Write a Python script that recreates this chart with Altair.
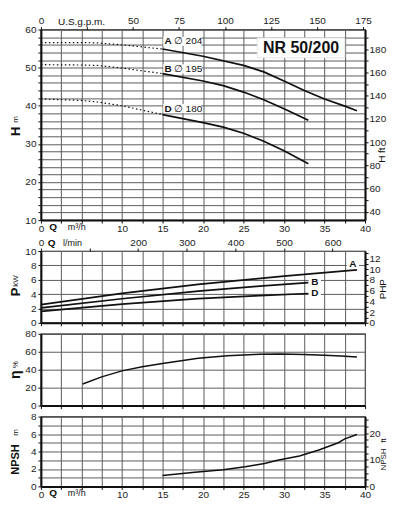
import altair as alt
import pandas as pd

# ---------------- values ----------------
# Q-H curves (Q in m3/h, H in m); dotted part = low-flow range
h_dot_q = [0, 5, 7, 10, 15]
hA_dot = [56.6, 56.6, 56.5, 56.0, 54.9]
hB_dot = [50.8, 50.7, 50.6, 49.9, 48.45]
hD_dot = [41.8, 41.4, 41.0, 40.0, 37.7]

hA_q = [15, 20, 25, 27.5, 30, 32.5, 35, 37.5, 39]
hA_h = [54.9, 53.0, 50.6, 48.9, 46.5, 44.0, 41.8, 39.9, 38.7]
hBD_q = [15, 20, 22.5, 25, 27.5, 30, 33]
hB_h = [48.45, 46.5, 45.3, 43.6, 41.6, 39.25, 36.2]
hD_h = [37.7, 35.6, 34.4, 32.8, 30.7, 28.2, 24.8]

impellers = ["A", "B", "D"]
diameters = ["∅ 204", "∅ 195", "∅ 180"]
imp_label_h = [56.9, 49.7, 39.25]
imp_label_q = 15.7
model_name = "NR 50/200"
model_label_q = 32.1
model_label_h = 55.2

# power (kW)
pA_q = [0, 10, 19.4, 30, 39]
pA = [2.54, 4.1, 5.35, 6.5, 7.37]
pBD_q = [0, 10, 19.4, 27, 33]
pB = [2.07, 3.35, 4.41, 5.1, 5.59]
pD = [1.6, 2.6, 3.38, 3.8, 4.08]
p_label_q = [38.5, 33.8, 33.8]
p_label_p = [8.2, 5.73, 4.18]

# efficiency (%)
eff_q = [5.15, 7.5, 10, 12.5, 15, 19.4, 23, 27, 29.5, 32.4, 35, 37, 39]
eff = [24, 32, 38.7, 43.3, 46.8, 52.7, 55.5, 57.1, 57.4, 57, 56.2, 55.3, 54.1]

# NPSH (m)
npsh_q = [15, 19, 22.5, 25.2, 27.6, 29.2, 31.9, 34.3, 36.7, 37.5, 39]
npsh = [1.24, 1.61, 1.92, 2.25, 2.63, 3.0, 3.49, 4.17, 5.0, 5.45, 5.94]

# axis values
q_ticks = [i * 2.5 for i in range(17)]
gpm_ticks = [0, 25, 50, 75, 100, 125, 150, 175]
lmin_ticks = [0, 100, 200, 300, 400, 500, 600]
h_ticks = list(range(10, 61, 2))
hft_ticks = list(range(40, 191, 10))
p_ticks = [0, 2, 4, 6, 8, 10]
hp_ticks = list(range(0, 14))
eff_ticks = [0, 20, 40, 60, 80]
npsh_ticks = list(range(0, 9))
nft_ticks = [i * 2.5 for i in range(11)]

M3H_GPM = 4.4029
M3H_LMIN = 16.6667
M_FT = 3.2808
KW_HP = 1.341

# ---------------- styling ----------------
INK = "#111111"
GRID = "#5c5c5c"
FONT = "Liberation Sans"
W = 325
HH, HPW, HE, HN = 191, 72, 72, 70
Q_DOM = [0, 40]


def sc(dom):
    return alt.Scale(domain=dom, nice=False, zero=False)


def bottom_axis(labels):
    return alt.Axis(orient="bottom", values=q_ticks, grid=True, gridColor=GRID, gridWidth=1,
                    gridOpacity=1, domain=True, domainColor=INK, domainWidth=2, ticks=True,
                    tickSize=3, tickColor=INK, labels=labels,
                    labelExpr="(datum.value % 5 == 0 && datum.value != 5) ? datum.label : ''",
                    labelPadding=0, labelOverlap=False, labelFlush=False)


def left_axis(values, lstep):
    return alt.Axis(orient="left", values=values, grid=True, gridColor=GRID, gridWidth=1,
                    gridOpacity=1, domain=True, domainColor=INK, domainWidth=2, ticks=True,
                    tickSize=3, tickColor=INK, labels=True,
                    labelExpr=f"datum.value % {lstep} == 0 ? datum.label : ''",
                    labelPadding=2, labelOverlap=False, labelFlush=False)


class Panel:
    """Holds the shared, explicit axes of one panel so every layer uses the same ones."""

    def __init__(self, dom, yvals, lstep, xlabels):
        self.dom = dom
        self.xax = bottom_axis(xlabels)
        self.yax = left_axis(yvals, lstep)

    def x(self, field):
        return alt.X(f"{field}:Q", scale=sc(Q_DOM), axis=self.xax, title=None)

    def y(self, field):
        return alt.Y(f"{field}:Q", scale=sc(self.dom), axis=self.yax, title=None)

    def frame(self):
        df = pd.DataFrame({"q": Q_DOM, "v": self.dom})
        return alt.Chart(df).mark_point(opacity=0, size=1).encode(x=self.x("q"), y=self.y("v"))

    def curves(self, df, width=1.7, dash=None):
        kw = dict(color=INK, strokeWidth=width)
        if dash:
            kw["strokeDash"] = dash
        return alt.Chart(df).mark_line(**kw).encode(
            x=self.x("q"), y=self.y("v"), detail="s:N", order="q:Q")

    def boxes(self, df, **kw):
        return alt.Chart(df).mark_rect(color="white", **kw).encode(
            x=self.x("q0"), x2="q1:Q", y=self.y("v0"), y2="v1:Q")

    def labels(self, df, xfield, text, size=10, weight="normal", align="center"):
        return alt.Chart(df).mark_text(fontSize=size, fontWeight=weight, align=align,
                                       font=FONT, color=INK).encode(
            x=self.x(xfield), y=self.y("v"), text=f"{text}:N")


def ptext(txt, x, y, size, weight="normal", angle=270, align="center", font=FONT):
    return alt.Chart(pd.DataFrame({"t": [txt]})).mark_text(
        fontSize=size, fontWeight=weight, angle=angle, align=align, baseline="middle",
        font=font, color=INK).encode(x=alt.value(x), y=alt.value(y), text="t:N")


def top_axis(field, dom, values, expr):
    return alt.Chart(pd.DataFrame({field: dom})).mark_point(opacity=0, size=1).encode(
        x=alt.X(f"{field}:Q", scale=sc(dom), title=None,
                axis=alt.Axis(orient="top", values=values, labelExpr=expr, grid=False,
                              domain=False, tickSize=3, tickColor=INK, labelPadding=1,
                              labelOverlap=False, labelFlush=False)))


def right_axis(field, dom, values, expr):
    return alt.Chart(pd.DataFrame({field: dom})).mark_point(opacity=0, size=1).encode(
        y=alt.Y(f"{field}:Q", scale=sc(dom), title=None,
                axis=alt.Axis(orient="right", values=values, labelExpr=expr, grid=False,
                              domain=True, domainColor=INK, domainWidth=2, tickSize=3,
                              tickColor=INK, labelPadding=1, labelOverlap=False,
                              labelFlush=False)))


# ---------------- H panel ----------------
hp = Panel([10, 60], h_ticks, 10, True)
dot_df = pd.DataFrame({
    "q": h_dot_q * 3,
    "v": hA_dot + hB_dot + hD_dot,
    "s": ["A"] * 5 + ["B"] * 5 + ["D"] * 5,
})
h_df = pd.DataFrame({
    "q": hA_q + hBD_q + hBD_q,
    "v": hA_h + hB_h + hD_h,
    "s": ["A"] * len(hA_q) + ["B"] * len(hBD_q) + ["D"] * len(hBD_q),
})
imp_df = pd.DataFrame({
    "q": [imp_label_q] * 3, "q0": [imp_label_q - 0.6] * 3, "q1": [imp_label_q + 4.1] * 3,
    "qd": [imp_label_q + 0.7] * 3,
    "v": imp_label_h, "v0": [h - 1.2 for h in imp_label_h], "v1": [h + 1.2 for h in imp_label_h],
    "t": impellers, "d": diameters,
})
model_df = pd.DataFrame({
    "q": [model_label_q], "q0": [model_label_q - 5.4], "q1": [model_label_q + 5.4],
    "v": [model_label_h], "v0": [model_label_h - 2.6], "v1": [model_label_h + 2.6],
    "t": [model_name],
})

h_main = alt.layer(
    hp.frame(),
    hp.boxes(imp_df),
    hp.boxes(model_df, stroke="#e6e6e6"),
    hp.curves(dot_df, width=1.2, dash=[1.5, 2.5]),
    hp.curves(h_df),
    hp.labels(imp_df, "q", "t", weight="bold"),
    hp.labels(imp_df, "qd", "d", align="left"),
    hp.labels(model_df, "q", "t", size=16, weight="bold"),
    ptext("H", -25, 102, 13, "bold"),
    ptext("m", -25, 90, 8),
    ptext("H", W + 17, 130, 10),
    ptext("ft", W + 17, 121, 10),
    ptext("Q", 12.3, HH + 7, 10, "bold", angle=0),
    ptext("m³/h", 36, HH + 7, 9, angle=0),
    ptext("U.S.g.p.m.", 40.7, -7.5, 10, angle=0),
)
h_panel = alt.layer(
    h_main,
    top_axis("g", [0, 40 * M3H_GPM], gpm_ticks, "datum.value == 25 ? '' : datum.label"),
    right_axis("f", [10 * M_FT, 60 * M_FT], hft_ticks, "datum.value % 20 == 0 ? datum.label : ''"),
).resolve_scale(x="independent", y="independent").properties(width=W, height=HH)

# ---------------- P panel ----------------
pp = Panel([0, 10], p_ticks, 2, False)
p_df = pd.DataFrame({
    "q": pA_q + pBD_q + pBD_q,
    "v": pA + pB + pD,
    "s": ["A"] * len(pA_q) + ["B"] * len(pBD_q) + ["D"] * len(pBD_q),
})
plab_df = pd.DataFrame({
    "q": p_label_q, "q0": [q - 0.75 for q in p_label_q], "q1": [q + 0.75 for q in p_label_q],
    "v": p_label_p, "v0": [p - 0.7 for p in p_label_p], "v1": [p + 0.7 for p in p_label_p],
    "t": impellers,
})
p_main = alt.layer(
    pp.frame(),
    pp.boxes(plab_df),
    pp.curves(p_df),
    pp.labels(plab_df, "q", "t", weight="bold"),
    ptext("P", -25, 41, 13, "bold"),
    ptext("kW", -25, 30, 8),
    ptext("P", W + 18, 45, 10),
    ptext("HP", W + 18, 35, 10),
    ptext("Q", 10.7, -8.5, 10, "bold", angle=0),
    ptext("l/min", 31.7, -8.5, 9, angle=0),
)
p_panel = alt.layer(
    p_main,
    top_axis("l", [0, 40 * M3H_LMIN], lmin_ticks, "datum.value == 100 ? '' : datum.label"),
    right_axis("hp", [0, 10 * KW_HP], hp_ticks, "datum.value % 2 == 0 ? datum.label : ''"),
).resolve_scale(x="independent", y="independent").properties(width=W, height=HPW)

# ---------------- efficiency panel ----------------
ep = Panel([0, 80], eff_ticks, 20, False)
e_df = pd.DataFrame({"q": eff_q, "v": eff, "s": ["e"] * len(eff_q)})
e_panel = alt.layer(
    ep.frame(),
    ep.curves(e_df, width=1.5),
    ptext("η", -25, 41, 14, "bold"),
    ptext("%", -25, 31, 8),
).properties(width=W, height=HE)

# ---------------- NPSH panel ----------------
npn = Panel([0, 8], npsh_ticks, 2, True)
n_df = pd.DataFrame({"q": npsh_q, "v": npsh, "s": ["n"] * len(npsh_q)})
n_main = alt.layer(
    npn.frame(),
    npn.curves(n_df, width=1.5),
    ptext("NPSH", -25, 43, 11, "bold"),
    ptext("m", -25, 16, 8),
    ptext("NPSH", W + 19, 43, 8),
    ptext("ft", W + 19, 24, 8),
    ptext("Q", 12.3, HN + 7, 10, "bold", angle=0),
    ptext("m³/h", 36, HN + 7, 9, angle=0),
)
n_panel = alt.layer(
    n_main,
    right_axis("nf", [0, 8 * M_FT], nft_ticks, "datum.value % 10 == 0 ? datum.label : ''"),
).resolve_scale(y="independent").properties(width=W, height=HN)

spacer = alt.Chart(pd.DataFrame({"a": [0]})).mark_point(opacity=0, size=1).encode(
    x=alt.value(0), y=alt.value(0)).properties(width=W, height=9,
                                                view=alt.ViewBackground(strokeOpacity=0))

chart = alt.vconcat(h_panel, spacer, p_panel, e_panel, n_panel, spacing=11, bounds="flush").properties(
    padding={"top": 6, "left": 0, "right": 0, "bottom": 0}
).configure_view(stroke=INK, strokeWidth=1.2).configure_axis(
    labelFont=FONT, labelFontSize=10, labelColor="#222222"
).configure_text(font=FONT)

chart.save("out.html", embed_options={"renderer": "svg", "actions": False})
